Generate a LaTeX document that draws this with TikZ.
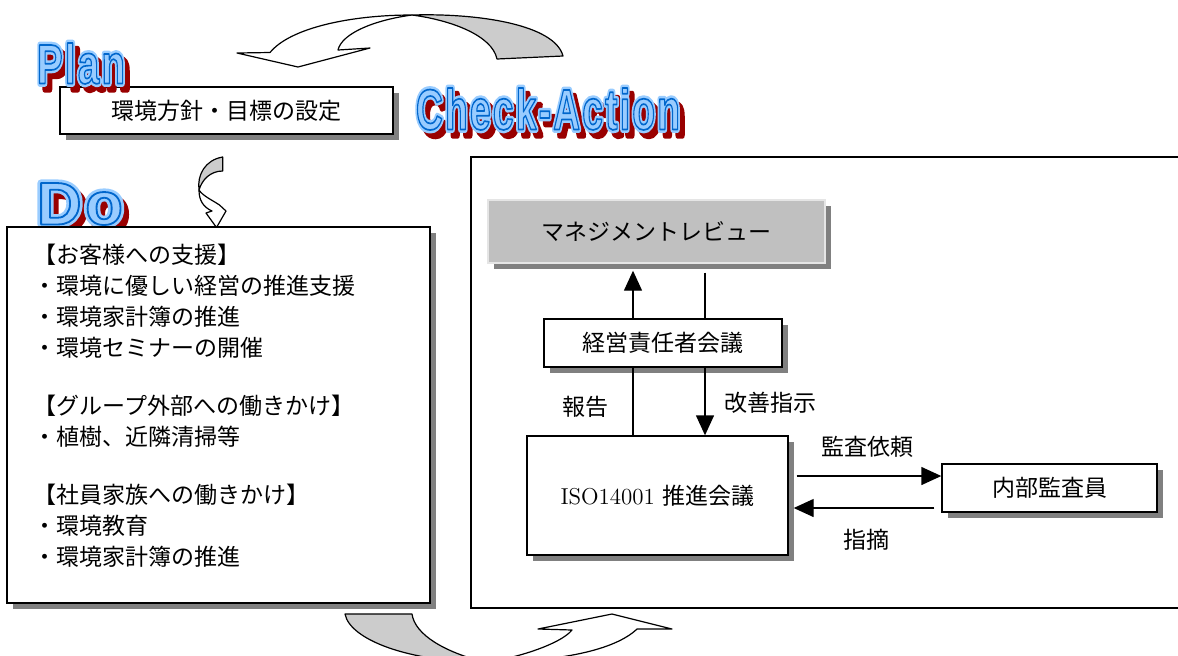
\documentclass[tikz,border=0pt]{standalone}
\usepackage{fontspec}
\newfontfamily\jp{Noto Sans CJK JP}
\newfontfamily\popfont[LetterSpace=6]{Liberation Sans}
\usetikzlibrary{arrows.meta,shadows,calc}
\definecolor{popred}{HTML}{990000}
\definecolor{popblue}{HTML}{0066CC}
\definecolor{poplight}{HTML}{99CCFF}
\definecolor{curvegray}{HTML}{CCCCCC}
\definecolor{reviewgray}{HTML}{C0C0C0}
\tikzset{
  box/.style={draw, fill=white, line width=0.7pt, inner sep=0pt,
    drop shadow={shadow xshift=3pt, shadow yshift=-3pt, fill=black!50, opacity=1}},
  arr/.style={line width=0.7pt, -{Triangle[length=10pt,width=9pt]}},
  conn/.style={line width=0.7pt},
  curve/.style={draw, line width=0.6pt, line join=round}
}
% text drawn with a stroked outline: pdf operators, text
\newcommand{\stroketext}[2]{%
  {\popfont\bfseries\fontsize{30pt}{30pt}\selectfont
   \special{pdf:literal direct #1}#2\special{pdf:literal direct 0 Tr}}}
% big outlined title: center, width, height, text
\newcommand{\poptitle}[4]{%
  \node[text=popred, inner sep=0pt] at ($(#1)+(5,6)$)
    {\resizebox*{#2}{#3}{\stroketext{1 j 3.4 w 2 Tr}{#4}}};
  \node[text=poplight, inner sep=0pt] at (#1)
    {\resizebox*{#2}{#3}{\stroketext{1 j 3.6 w 2 Tr}{#4}}};
  \node[text=poplight, inner sep=0pt] at (#1)
    {\resizebox*{#2}{#3}{\stroketext{0 0.4 0.8 RG 1 j 0.9 w 2 Tr}{#4}}};
}

\begin{document}
\begin{tikzpicture}[x=0.5pt, y=-0.5pt,
    every node/.style={font=\jp\fontsize{11.5pt}{15.5pt}\selectfont}]
  \useasboundingbox (0,0) rectangle (1178,655);

  % Plan
  \node[box, minimum width=166.5pt, minimum height=23.5pt] (goal) at (226.5,110.5)
    {環境方針・目標の設定};
  \coordinate (plantitle) at (81,63.5);
  \poptitle{plantitle}{44pt}{20.5pt}{Plan}

  % curved arrow Check-Action -> Plan
  \coordinate (topwist) at (412,15);
  \fill[curve, fill=curvegray] (topwist) .. controls (480,13) and (555,25) .. (563,56)
    -- (497,59) .. controls (492,35) and (450,20) .. (topwist) -- cycle;
  \filldraw[curve, fill=white] (topwist) .. controls (350,15) and (290,28) .. (270,52.5)
    -- (237,53) -- (298,67) -- (370,48) -- (338,50)
    .. controls (342,33) and (375,20) .. (topwist) -- cycle;

  % curved arrow Plan -> Do
  \coordinate (smalltwist) at (199,190);
  \fill[curve, fill=curvegray] (222.7,157) .. controls (205,160) and (197,175) .. (smalltwist)
    .. controls (202,180) and (210,171) .. (222.7,171) -- cycle;
  \filldraw[curve, fill=white] (smalltwist) .. controls (199,200) and (203,207) .. (212,211)
    -- (206,213) -- (216.5,227.5) -- (226,211) -- (219.5,205)
    .. controls (212,200) and (203,196) .. (smalltwist) -- cycle;

  % Do
  \coordinate (dotitle) at (80,204);
  \poptitle{dotitle}{43pt}{21pt}{Do}
  \node[box, minimum width=211.5pt, minimum height=188pt] (dobox) at (218.5,415) {};
  \node[anchor=north west, align=left, inner sep=0pt] (dolist) at (33,244)
    {【お客様への支援】\\
     ・環境に優しい経営の推進支援\\
     ・環境家計簿の推進\\
     ・環境セミナーの開催\\[13.5pt]
     【グループ外部への働きかけ】\\
     ・植樹、近隣清掃等\\[13.5pt]
     【社員家族への働きかけ】\\
     ・環境教育\\
     ・環境家計簿の推進};

  % curved arrow Do -> Check-Action
  \coordinate (bottwist) at (484,662);
  \fill[curve, fill=curvegray] (345,614) .. controls (350,640) and (410,662) .. (bottwist)
    .. controls (445,652) and (415,635) .. (412,614) -- cycle;
  \filldraw[curve, fill=white] (bottwist) .. controls (510,660) and (560,645) .. (572,630)
    -- (538,629) -- (612,614) -- (672,629) -- (637,629)
    .. controls (615,650) and (560,662) .. (bottwist) -- cycle;

  % Check-Action
  \coordinate (catitle) at (548,109);
  \poptitle{catitle}{132pt}{21pt}{Check-Action}
  \node[draw, line width=0.7pt, minimum width=359.5pt, minimum height=225.5pt] (cabox)
    at (830.5,382.5) {};

  \node[box, fill=reviewgray, draw=black!10, minimum width=168.5pt, minimum height=31.5pt]
    (review) at (656.5,231.5) {マネジメントレビュー};
  \node[box, minimum width=119pt, minimum height=24pt] (mgmt) at (663,343) {経営責任者会議};
  \node[box, minimum width=130.5pt, minimum height=59.5pt] (iso) at (657.5,495.5)
    {\rmfamily ISO14001 \jp 推進会議};
  \node[box, minimum width=107.5pt, minimum height=24pt] (audit) at (1049.5,488) {内部監査員};

  \draw[arr, shorten >=3.5pt] ([xshift=-15pt]mgmt.north) -- ([xshift=-15pt]mgmt.north |- review.south);
  \draw[conn, shorten <=4.5pt] ([xshift=21pt]mgmt.north |- review.south) -- ([xshift=21pt]mgmt.north);
  \draw[conn] ([xshift=-15pt]mgmt.south) -- ([xshift=-15pt]mgmt.south |- iso.north);
  \draw[arr] ([xshift=21pt]mgmt.south) -- ([xshift=21pt]mgmt.south |- iso.north);
  \draw[arr] ([shift={(4pt,9.75pt)}]iso.east) -- ([yshift=6pt]audit.west);
  \draw[arr] ([shift={(-3.5pt,-10pt)}]audit.west) -- ([shift={(2.5pt,-6.25pt)}]iso.east);

  \node (lblreport) at (585,407) {報告};
  \node (lblimprove) at (770,403) {改善指示};
  \node (lblrequest) at (867,447) {監査依頼};
  \node (lblfinding) at (866,540) {指摘};
\end{tikzpicture}
\end{document}
